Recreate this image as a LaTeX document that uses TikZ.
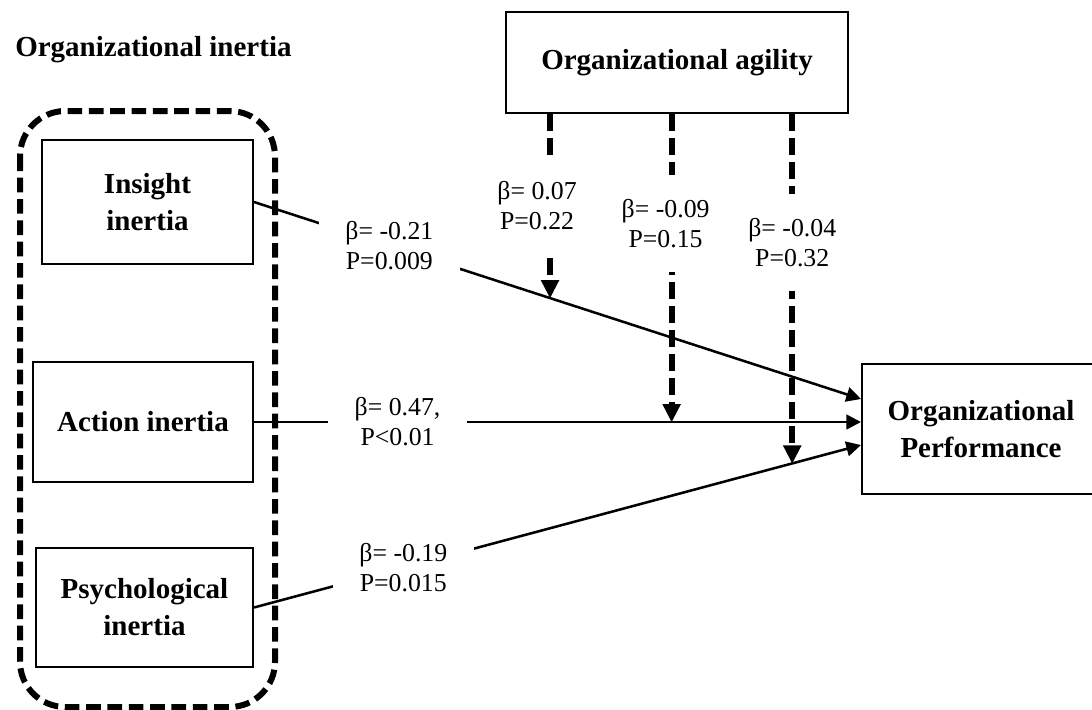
\documentclass[tikz,border=0pt]{standalone}
\usepackage{fontspec}
\setmainfont{Liberation Serif}
\usetikzlibrary{arrows.meta, positioning, calc}

\begin{document}
\begin{tikzpicture}[x=0.75pt, y=-0.75pt, >={Triangle[length=11pt, width=11pt]}, line width=1.9pt]
        % Estilos para bloques, coeficientes y flechas
        \tikzstyle{block} = [draw, rectangle, line width=1.5pt, align=center, inner sep=0pt, font=\bfseries\fontsize{21.75}{27.75}\selectfont]
        \tikzstyle{coef} = [fill=white, align=center, inner xsep=20pt, inner ysep=14pt, font=\fontsize{19.35}{22.5}\selectfont]
        \tikzstyle{modcoef} = [coef, inner ysep=18pt]
        \tikzstyle{effect} = [->, line width=1.9pt]
        \tikzstyle{moderation} = [-{Triangle[length=13.5pt, width=14pt, line width=0pt]}, line width=4.6pt, dash pattern=on 13pt off 5pt]
        \tikzstyle{group} = [line width=4.5pt, dash pattern=on 11pt off 5pt, rounded corners=34pt]
        \useasboundingbox[fill=white] (0,0) rectangle (1092,710);
       % Nodes
       \node [anchor=base west, inner sep=0pt, font=\bfseries\fontsize{21.75}{27.75}\selectfont] (inertiaLabel) at (14,57) {Organizational inertia}; % Group title
       \node [block, minimum width=256.5pt, minimum height=75.75pt] (agility) at (677,62.5) {Organizational agility}; % Moderator
       \node [block, minimum width=158.25pt, minimum height=93pt] (insight) at (147.5,202) {Insight\\inertia}; % First inertia
       \node [block, minimum width=165pt, minimum height=90pt] (action) at (143,422) {Action inertia}; % Second inertia
       \node [block, minimum width=162.75pt, minimum height=89.25pt] (psych) at (144.5,607.5) {Psychological\\inertia}; % Third inertia
       \node [block, minimum width=178.5pt, minimum height=97.5pt] (performance) at (981,429) {Organizational\\Performance}; % Outcome
       \coordinate (insightEnd) at ($(performance.west)+(0,-30)$);
       \coordinate (actionEnd) at (action.east -| performance.west);
       \coordinate (psychEnd) at ($(performance.west)+(0,16)$);
       % Dashed group
       \draw[group] (20,111) rectangle (275,707);
       % Connections
       \draw[effect] (insight.east) -- node[coef, pos=0.223] {β= -0.21\\P=0.009} coordinate[pos=0.4877] (onInsight) (insightEnd); % Insight to performance
       \draw[effect] (action.east) -- node[coef, pos=0.2365] {β= 0.47,\\P<0.01} coordinate[pos=0.688] (onAction) (actionEnd); % Action to performance
       \draw[effect] (psych.east) -- node[coef, pos=0.246] {β= -0.19\\P=0.015} coordinate[pos=0.8867] (onPsych) (psychEnd); % Psychological to performance
       \draw[moderation] (onInsight |- agility.south) -- node[modcoef, pos=0.497, xshift=-9.75pt] {β= 0.07\\P=0.22} (onInsight); % Agility on insight path
       \draw[moderation] (onAction |- agility.south) -- node[modcoef, pos=0.356, xshift=-4.5pt] {β= -0.09\\P=0.15} (onAction); % Agility on action path
       \draw[moderation] (onPsych |- agility.south) -- node[modcoef, pos=0.367] {β= -0.04\\P=0.32} (onPsych); % Agility on psychological path

      \end{tikzpicture}
\end{document}
